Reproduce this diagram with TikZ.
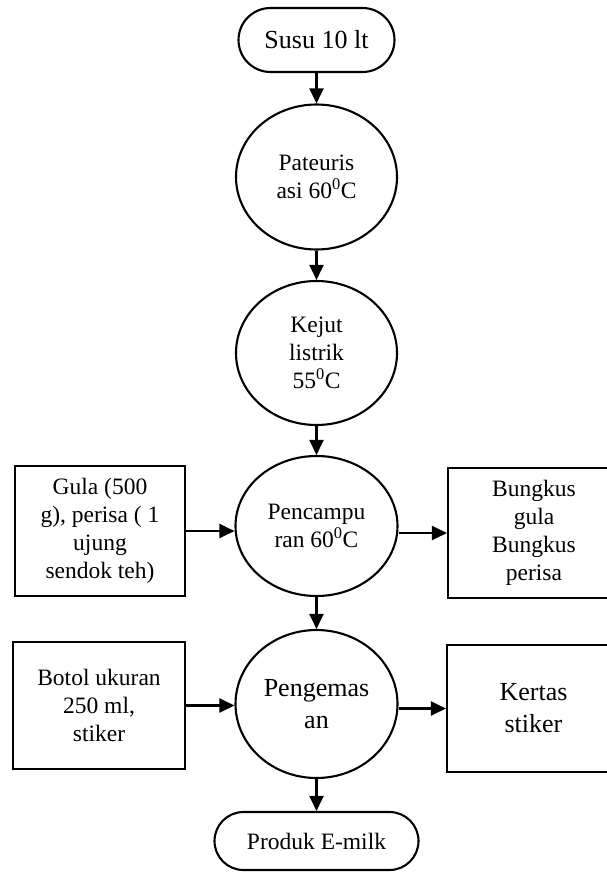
\documentclass[tikz,border=0pt]{standalone}
\usepackage{fontspec}
\setmainfont{Liberation Serif}
\usetikzlibrary{shapes.geometric,arrows.meta}
\tikzset{
  lw/.style={line width=2.1pt},
  term/.style={lw,draw,rectangle,inner sep=0pt,align=center},
  proc/.style={lw,draw,ellipse,inner sep=0pt,align=center},
  sidebox/.style={lw,draw,rectangle,inner sep=0pt,align=center},
  arr/.style={lw,-{Triangle[length=15pt,width=14pt]}},
  fsa/.style={font=\fontsize{23.5}{28}\selectfont},
  fsb/.style={font=\fontsize{26}{32}\selectfont},
}
\begin{document}
\begin{tikzpicture}[x=1pt,y=-1pt]
\useasboundingbox (0,0) rectangle (607,872);
\node[term,fsb,minimum width=156pt,minimum height=64pt,rounded corners=32pt] (susu) at (316.5,40) {Susu 10 lt};
\node[proc,fsa,minimum width=161pt,minimum height=145pt] (c1) at (316.5,177) {Pateuris\\asi 60\textsuperscript{0}C};
\node[proc,fsa,minimum width=161pt,minimum height=144pt] (c2) at (316.5,353) {Kejut\\listrik\\55\textsuperscript{0}C};
\node[proc,fsa,minimum width=162pt,minimum height=140pt] (c3) at (316.5,526) {Pencampu\\ran 60\textsuperscript{0}C};
\node[proc,fsb,minimum width=162pt,minimum height=148pt] (c4) at (316.5,704) {Pengemas\\an};
\node[term,fsa,minimum width=204pt,minimum height=58pt,rounded corners=29pt] (produk) at (316.5,841) {Produk E-milk};
\node[sidebox,fsa,minimum width=170pt,minimum height=130pt] (gula) at (100,531) {Gula (500\\g), perisa ( 1\\ujung\\sendok teh)};
\node[sidebox,fsa,minimum width=172pt,minimum height=130pt] (bungkus) at (534,533) {Bungkus\\gula\\Bungkus\\perisa};
\node[sidebox,fsa,minimum width=172pt,minimum height=127pt] (botol) at (99,705.5) {Botol ukuran\\250 ml,\\stiker};
\node[sidebox,fsb,minimum width=173pt,minimum height=127pt] (kertas) at (533.5,708.5) {Kertas\\stiker};
\draw[arr] (susu) -- (c1);
\draw[arr] (c1) -- (c2);
\draw[arr] (c2) -- (c3);
\draw[arr] (c3) -- (c4);
\draw[arr] (c4) -- (produk);
\draw[arr] (gula.east) -- (c3.west |- gula.east);
\draw[arr] (c3.east |- bungkus.west) -- (bungkus.west);
\draw[arr] (botol.east) -- (c4.west |- botol.east);
\draw[arr] (c4.east |- kertas.west) -- (kertas.west);
\end{tikzpicture}
\end{document}
